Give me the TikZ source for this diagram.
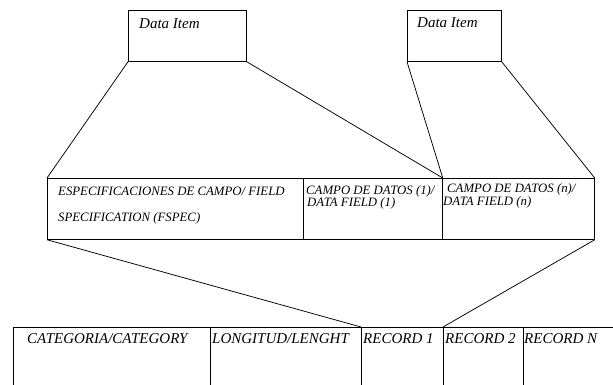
\documentclass[tikz,border=0pt]{standalone}
\usepackage{fontspec}
\setmainfont{Liberation Serif}
\newfontfamily\tms{Liberation Serif}
\begin{document}
\begin{tikzpicture}[x=1pt,y=-1pt,
  box/.style={draw, line width=0.75pt, inner sep=0pt, anchor=north west},
  txt/.style={anchor=base west, inner sep=0pt},
  big/.style={font=\tms\itshape\fontsize{15}{17}\selectfont},
  mid/.style={font=\tms\itshape\fontsize{12.8}{14}\selectfont},
  ln/.style={line width=0.75pt}]
\useasboundingbox (0,0) rectangle (613,385);
% Data Item boxes
\node[box, minimum width=118pt, minimum height=51pt] (d1) at (128,10) {};
\node[box, minimum width=94pt, minimum height=51pt] (d2) at (407,10) {};
\node[txt, big] (t1) at (139,29) {Data Item};
\node[txt, big] (t2) at (417,28) {Data Item};
% middle row
\node[box, minimum width=256pt, minimum height=61pt] (fspec) at (47,178) {};
\node[box, minimum width=139pt, minimum height=61pt] (df1) at (303,178) {};
\node[box, minimum width=152pt, minimum height=61pt] (dfn) at (442,178) {};
\node[txt, mid] (m1) at (58,195) {ESPECIFICACIONES DE CAMPO/ FIELD};
\node[txt, mid] (m2) at (58,221) {SPECIFICATION (FSPEC)};
\node[txt, mid] (m3) at (306,194) {CAMPO DE DATOS (1)/};
\node[txt, mid] (m4) at (307,206) {DATA FIELD (1)};
\node[txt, mid] (m5) at (447,193) {CAMPO DE DATOS (n)/};
\node[txt, mid] (m6) at (443,205) {DATA FIELD (n)};
% bottom row
\coordinate (b0) at (13,327);
\coordinate (b1) at (210,327);
\coordinate (b2) at (361,327);
\coordinate (b3) at (443,327);
\coordinate (b4) at (523,327);
\coordinate (bR) at (613,327);
\coordinate (bot) at (0,385);
\draw[ln] (b0) -- (bR);
\foreach \c in {b0,b1,b2,b3,b4} \draw[ln] (\c) -- (\c |- bot);
\node[txt, big] (r0) at (27,343) {CATEGORIA/CATEGORY};
\node[txt, big] (r1) at (212,343) {LONGITUD/LENGHT};
\node[txt, big] (r2) at (363,343) {RECORD 1};
\node[txt, big] (r3) at (445,343) {RECORD 2};
\node[txt, big] (r4) at (524,343) {RECORD N};
% connectors
\draw[ln] (d1.south west) -- (fspec.north west);
\draw[ln] (d1.south east) -- (df1.north east);
\draw[ln] (d2.south west) -- (df1.north east);
\draw[ln] (d2.south east) -- (dfn.north east);
\draw[ln] (fspec.south west) -- (b2);
\draw[ln] (dfn.south east) -- (b3);
\end{tikzpicture}
\end{document}
